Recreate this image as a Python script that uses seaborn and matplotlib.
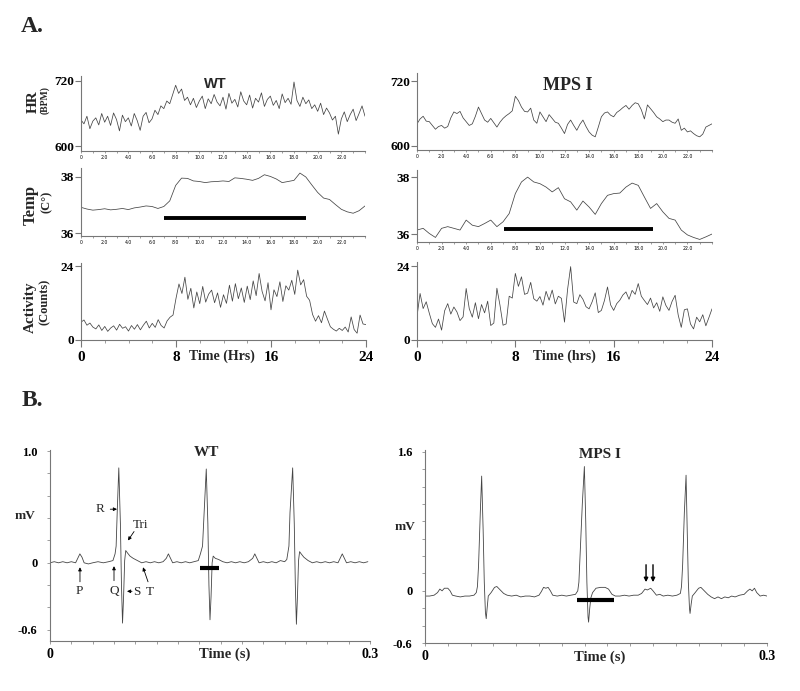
import numpy as np
import matplotlib.pyplot as plt
import pandas as pd
import seaborn as sns

# ---- A. 24 h telemetry traces ----
hours = np.arange(0, 24.01, 0.25)
hours_temp = np.arange(0, 24.01, 0.5)

hr_wt = [648, 641, 655, 632, 646, 652, 639, 660,
         644, 655, 638, 661, 649, 628, 657, 645,
         652, 637, 660, 647, 629, 655, 662, 643,
         650, 666, 658, 674, 669, 683, 678, 695,
         712, 697, 705, 684, 690, 676, 688, 671,
         683, 692, 669, 687, 678, 695, 681, 674,
         690, 668, 697, 679, 686, 672, 700, 683,
         676, 694, 670, 688, 681, 698, 673, 686,
         692, 675, 684, 669, 696, 680, 688, 677,
         718, 684, 673, 690, 678, 685, 669, 676,
         664, 679, 658, 670, 661, 648, 655, 622,
         650, 663, 645, 658, 668, 647, 660, 674,
         655]

hr_mps = [641, 650, 655, 646, 645, 638, 631, 636,
          638, 633, 636, 652, 663, 660, 664, 652,
          645, 638, 641, 655, 672, 660, 648, 644,
          651, 643, 635, 644, 651, 656, 660, 665,
          692, 684, 672, 664, 663, 670, 648, 642,
          663, 654, 645, 658, 651, 644, 642, 633,
          623, 640, 648, 638, 629, 640, 648, 636,
          626, 620, 617, 635, 654, 661, 663, 657,
          654, 662, 666, 671, 675, 668, 675, 680,
          678, 667, 650, 676, 669, 662, 654, 650,
          645, 648, 648, 644, 642, 650, 629, 633,
          626, 628, 623, 619, 617, 622, 635, 638,
          641]

temp_wt = [36.92, 36.86, 36.82, 36.84, 36.87, 36.83, 36.85, 36.88, 36.84, 36.90,
           36.93, 36.97, 36.95, 36.88, 36.95, 37.15, 37.70, 37.96, 37.95, 37.86,
           37.84, 37.80, 37.83, 37.84, 37.86, 37.84, 37.97, 37.95, 37.92, 37.88,
           37.95, 38.08, 38.02, 37.93, 37.80, 37.84, 37.88, 38.14, 38.00, 37.72,
           37.45, 37.25, 37.20, 37.02, 36.85, 36.76, 36.71, 36.80, 36.97]

temp_mps = [36.14, 36.20, 36.02, 35.88, 36.20, 36.26, 36.20, 36.14, 36.49, 36.31,
            36.26, 36.37, 36.49, 36.26, 36.43, 36.72, 37.42, 37.83, 38.00, 37.83,
            37.77, 37.65, 37.48, 37.63, 37.24, 37.13, 36.84, 37.16, 36.95, 36.69,
            37.07, 37.36, 37.42, 37.44, 37.65, 37.79, 37.71, 37.30, 36.90, 37.07,
            36.78, 36.55, 36.49, 36.14, 35.97, 35.88, 35.81, 35.90, 36.00]

act_wt = [5.8, 6.5, 4.8, 5.5, 4.2, 3.6, 4.9, 3.1,
          4.4, 2.8, 3.9, 4.6, 3.2, 5.1, 3.8, 4.3,
          2.9, 4.7, 3.5, 5.0, 3.3, 4.8, 6.1, 3.9,
          5.4, 4.1, 6.6, 4.7, 3.9, 6.2, 7.4, 8.1,
          13.5, 18.2, 15.1, 20.4, 13.2, 16.8, 10.4, 15.6,
          11.8, 17.4, 12.3, 14.9, 16.2, 12.1, 15.3, 10.6,
          14.7, 11.9, 17.8, 12.6, 18.3, 13.4, 16.9, 12.2,
          17.5, 13.1, 19.2, 14.4, 21.6, 15.8, 12.7, 18.6,
          9.8, 16.3, 14.1, 18.9, 12.5, 17.6, 16.2, 19.4,
          14.8, 22.7, 17.9, 19.6, 14.2, 12.9, 8.3, 6.1,
          7.9, 5.6, 9.4, 6.8, 4.3, 3.5, 2.9, 3.8,
          3.1, 4.2, 2.6, 7.5, 3.4, 2.2, 8.1, 5.2,
          5.0]

act_mps = [7.6, 15.1, 10.2, 12.4, 8.7, 5.3, 4.1, 6.8,
           3.2, 9.5, 11.8, 8.4, 10.7, 9.1, 6.3, 7.5,
           16.7, 10.2, 7.4, 12.1, 6.9, 11.5, 8.8, 12.6,
           4.7, 5.5, 16.8, 11.3, 4.8, 5.2, 14.2, 13.6,
           21.6, 17.4, 20.5, 14.8, 15.2, 18.7, 13.4, 12.6,
           14.1, 11.3, 15.8, 12.9, 16.2, 11.7, 14.2, 13.5,
           5.8, 16.4, 23.8, 12.3, 11.8, 14.7, 13.2, 10.8,
           10.1, 12.4, 15.3, 8.9, 9.6, 12.8, 17.2, 11.4,
           9.6, 11.8, 12.9, 14.6, 15.6, 13.2, 16.1, 14.8,
           18.3, 14.2, 12.8, 11.5, 13.6, 10.4, 12.1, 9.3,
           14.0, 11.2, 9.6, 12.5, 14.5, 8.1, 4.1, 9.8,
           10.1, 5.2, 3.6, 7.4, 5.9, 8.2, 4.6, 7.3,
           10.1]

dark_wt = [7, 19]
dark_mps = [7.1, 19.2]

# ---- B. ECG traces ----
ecg_wt_t = [0.000, 0.004, 0.008, 0.012, 0.016, 0.020, 0.024, 0.026, 0.028, 0.030,
            0.032, 0.036, 0.040, 0.045, 0.050, 0.055, 0.059, 0.061, 0.062, 0.063,
            0.0645, 0.066, 0.067, 0.068, 0.069, 0.070, 0.071, 0.0725, 0.075, 0.078,
            0.082, 0.086, 0.090, 0.094, 0.098, 0.102, 0.106, 0.109, 0.111, 0.113,
            0.115, 0.119, 0.123, 0.127, 0.131, 0.135, 0.139, 0.141, 0.143, 0.1445,
            0.1465, 0.148, 0.149, 0.150, 0.151, 0.152, 0.153, 0.155, 0.158, 0.162,
            0.166, 0.170, 0.174, 0.178, 0.182, 0.186, 0.190, 0.192, 0.194, 0.196,
            0.200, 0.204, 0.208, 0.212, 0.216, 0.220, 0.222, 0.224, 0.225, 0.2275,
            0.229, 0.230, 0.231, 0.232, 0.233, 0.234, 0.2355, 0.238, 0.242, 0.246,
            0.250, 0.254, 0.258, 0.262, 0.266, 0.270, 0.272, 0.274, 0.276, 0.278,
            0.282, 0.286, 0.290, 0.294, 0.298]
ecg_wt_mv = [0.00, 0.01, 0.00, 0.01, 0.00, 0.01, 0.00, 0.04, 0.08, 0.05,
             0.00, -0.01, 0.00, 0.01, 0.00, 0.01, 0.02, 0.08, 0.15, 0.45,
             0.85, 0.35, -0.20, -0.54, -0.30, 0.02, 0.11, 0.09, 0.06, 0.04,
             0.02, 0.00, 0.01, 0.00, 0.01, 0.00, 0.01, 0.04, 0.08, 0.04,
             0.00, 0.01, 0.00, 0.01, 0.00, 0.01, 0.02, 0.08, 0.15, 0.45,
             0.84, 0.35, -0.20, -0.51, -0.30, 0.00, 0.06, 0.04, 0.03, 0.01,
             0.00, 0.01, 0.00, 0.01, 0.00, 0.01, 0.04, 0.08, 0.04, 0.00,
             0.01, 0.00, 0.01, 0.00, 0.02, 0.01, 0.03, 0.15, 0.45, 0.85,
             0.35, -0.20, -0.55, -0.30, 0.02, 0.10, 0.08, 0.05, 0.02, 0.00,
             0.01, 0.00, 0.01, 0.00, 0.01, 0.00, 0.04, 0.08, 0.04, 0.00,
             0.01, 0.00, 0.01, 0.00, 0.01]

ecg_mps_t = [0.000, 0.004, 0.008, 0.011, 0.013, 0.015, 0.017, 0.020, 0.022, 0.024,
             0.027, 0.031, 0.035, 0.039, 0.043, 0.045, 0.046, 0.047, 0.0485, 0.0497,
             0.051, 0.052, 0.053, 0.0537, 0.0545, 0.0555, 0.058, 0.061, 0.063, 0.066,
             0.069, 0.072, 0.076, 0.080, 0.084, 0.088, 0.092, 0.096, 0.100, 0.102,
             0.104, 0.106, 0.108, 0.110, 0.112, 0.116, 0.120, 0.124, 0.128, 0.132,
             0.134, 0.135, 0.136, 0.138, 0.1398, 0.141, 0.142, 0.143, 0.1435, 0.1445,
             0.1455, 0.147, 0.150, 0.154, 0.158, 0.161, 0.164, 0.167, 0.171, 0.175,
             0.179, 0.183, 0.187, 0.190, 0.193, 0.195, 0.198, 0.200, 0.203, 0.206,
             0.209, 0.213, 0.217, 0.221, 0.224, 0.225, 0.226, 0.2275, 0.229, 0.230,
             0.231, 0.232, 0.2325, 0.2335, 0.2345, 0.237, 0.240, 0.242, 0.245, 0.248,
             0.251, 0.254, 0.257, 0.260, 0.263, 0.266, 0.269, 0.272, 0.276, 0.280,
             0.283, 0.285, 0.287, 0.289, 0.291, 0.294, 0.297, 0.300]
ecg_mps_mv = [-0.06, -0.06, -0.05, -0.02, 0.02, 0.00, 0.03, 0.03, 0.00, -0.05,
              -0.06, -0.07, -0.06, -0.06, -0.05, -0.02, 0.05, 0.30, 0.90, 1.32,
              0.70, 0.10, -0.25, -0.32, -0.20, -0.06, -0.02, 0.04, 0.05, 0.01,
              -0.03, -0.05, -0.06, -0.05, -0.07, -0.06, -0.06, -0.07, -0.05, -0.01,
              0.04, 0.03, 0.04, 0.00, -0.05, -0.06, -0.05, -0.06, -0.05, -0.04,
              0.00, 0.10, 0.40, 1.00, 1.43, 0.80, 0.10, -0.30, -0.36, -0.20,
              -0.08, -0.02, 0.03, 0.04, 0.04, 0.02, -0.04, -0.06, -0.06, -0.05,
              -0.06, -0.05, -0.05, -0.03, 0.02, 0.01, 0.03, 0.00, -0.05, -0.04,
              -0.06, -0.05, -0.06, -0.05, -0.03, 0.05, 0.30, 0.90, 1.33, 0.70,
              0.10, -0.20, -0.26, -0.15, -0.06, -0.02, 0.03, 0.04, 0.00, -0.04,
              -0.07, -0.09, -0.07, -0.09, -0.07, -0.08, -0.06, -0.07, -0.05, -0.04,
              0.00, 0.02, 0.00, 0.03, -0.02, -0.06, -0.05, -0.06]

qt_wt = [0.1406, 0.158]
qt_mps = [0.133, 0.166]

sns.set_style("ticks")
plt.rcParams['font.family'] = ['Liberation Serif', 'DejaVu Serif']
plt.rcParams['axes.linewidth'] = 0.8

W, H = 800, 691
fig = plt.figure(figsize=(8, 6.91), dpi=100)
LINE = '#444444'
SPINE = '#777777'


def box(x0, y0, x1, y1):
    return fig.add_axes([x0 / W, 1 - y1 / H, (x1 - x0) / W, (y1 - y0) / H])


def ptext(x, y, s, **kw):
    kw.setdefault('ha', 'center')
    kw.setdefault('va', 'center')
    fig.text(x / W, 1 - y / H, s, **kw)


def clean(ax):
    ax.set_facecolor('white')
    for side in ['top', 'right']:
        ax.spines[side].set_visible(False)
    for side in ['left', 'bottom']:
        ax.spines[side].set_color(SPINE)
        ax.spines[side].set_linewidth(0.8)
    ax.set_xlabel('')
    ax.set_ylabel('')
    ax.tick_params(which='both', color=SPINE, labelcolor='black', direction='out')


def trace(ax, t, v, ylim, yticks, tiny=True):
    sns.lineplot(x=t, y=v, ax=ax, color=LINE, lw=0.55)
    clean(ax)
    ax.set_xlim(0, 24)
    ax.set_ylim(*ylim)
    ax.set_yticks(yticks)
    ax.set_yticklabels([str(y) for y in yticks], fontsize=9.5, fontweight='bold')
    ax.tick_params(axis='y', length=4, width=0.8, pad=1)
    if tiny:
        ax.set_xticks(np.arange(0, 23, 2))
        ax.set_xticklabels(['0'] + [f'{h:.1f}' for h in range(2, 23, 2)],
                           fontsize=3.3, family='DejaVu Sans')
        ax.set_xticks(np.arange(0, 24.1, 1), minor=True)
        ax.tick_params(axis='x', which='both', length=1.5, width=0.5, pad=1.5)
    else:
        ax.set_xticks([0, 8, 16, 24])
        ax.set_xticklabels(['0', '8', '16', '24'], fontsize=11, fontweight='bold')
        ax.set_xticks(np.arange(0, 24.1, 2), minor=True)
        ax.tick_params(axis='x', which='major', length=5, width=0.8, pad=3)
        ax.tick_params(axis='x', which='minor', length=2, width=0.5)


# A. WT
ax = box(81, 76, 365, 151)
trace(ax, hours, hr_wt, (591, 729), [600, 720])
ax = box(81, 168, 365, 236)
trace(ax, hours_temp, temp_wt, (35.9, 38.32), [36, 38])
ax.plot(dark_wt, [36.54, 36.54], color='black', lw=2.8, solid_capstyle='butt')
ax = box(81, 263, 366, 340)
trace(ax, hours, act_wt, (0, 25), [0, 24], tiny=False)

# A. MPS I
ax = box(417, 73, 712, 150)
trace(ax, hours, hr_mps, (592.6, 735), [600, 720])
ax = box(417, 170, 712, 242)
trace(ax, hours_temp, temp_mps, (35.72, 38.25), [36, 38])
ax.plot(dark_mps, [36.17, 36.17], color='black', lw=2.8, solid_capstyle='butt')
ax = box(417, 262, 712, 340)
trace(ax, hours, act_mps, (0, 25.3), [0, 24], tiny=False)

ptext(32, 27, 'A.', fontsize=17, fontweight='bold')
ptext(215, 84, 'WT', family='Liberation Sans', fontsize=10.5, fontweight='bold')
ptext(568, 85, 'MPS I', fontsize=13, fontweight='bold')
ptext(33, 102, 'HR', rotation=90, fontsize=11, fontweight='bold')
ptext(45, 100, '(BPM)', rotation=90, fontsize=7, fontweight='bold')
ptext(31, 205, 'Temp', rotation=90, fontsize=12, fontweight='bold')
ptext(47, 202, '(C°)', rotation=90, fontsize=9, fontweight='bold')
ptext(30, 307, 'Activity', rotation=90, fontsize=11, fontweight='bold')
ptext(45, 302, '(Counts)', rotation=90, fontsize=9, fontweight='bold')
ptext(222, 356, 'Time (Hrs)', fontsize=10, fontweight='bold')
ptext(564, 356, 'Time (hrs)', fontsize=10, fontweight='bold')


# B. ECG
def ecg(ax, t, v, ylim, yticks, ylabels):
    sns.lineplot(x=t, y=v, ax=ax, color=LINE, lw=0.6)
    clean(ax)
    ax.set_xlim(0, 0.3)
    ax.set_ylim(*ylim)
    ax.set_yticks(yticks)
    ax.set_yticklabels(ylabels, fontsize=9, fontweight='bold')
    ax.set_yticks(np.arange(-0.6, ylim[1], 0.2), minor=True)
    ax.set_xticks([0, 0.3])
    ax.set_xticklabels(['0', '0.3'], fontsize=10, fontweight='bold')
    ax.set_xticks(np.arange(0, 0.301, 0.02), minor=True)
    ax.tick_params(which='both', length=2, width=0.5)
    ax.tick_params(axis='y', pad=7)
    ax.tick_params(axis='x', pad=3)


ax1 = box(50, 450, 370, 641)
ecg(ax1, ecg_wt_t, ecg_wt_mv, (-0.7, 1.01), [-0.6, 0, 1.0], ['-0.6', '0', '1.0'])
ax1.plot(qt_wt, [-0.045, -0.045], color='black', lw=3, solid_capstyle='butt')

arrow = dict(arrowstyle='-|>', color='black', lw=0.6, mutation_scale=5, shrinkA=0, shrinkB=0)
marks = [('R', (0.0469, 0.48), (0.0565, 0.48), (0.0628, 0.48)),
         ('Tri', (0.0853, 0.34), (0.0788, 0.28), (0.0731, 0.20)),
         ('P', (0.0272, -0.25), (0.0281, -0.17), (0.0281, -0.04)),
         ('Q', (0.0600, -0.25), (0.0600, -0.16), (0.0600, -0.03)),
         ('S', (0.0815, -0.26), (0.0769, -0.255), (0.0722, -0.255)),
         ('T', (0.0938, -0.26), (0.0919, -0.17), (0.0872, -0.04))]
for label, pos, tail, tip in marks:
    ax1.text(*pos, label, fontsize=9.5, ha='center', va='center')
    ax1.annotate('', xy=tip, xytext=tail, arrowprops=arrow)

ax2 = box(425, 450, 767, 643)
ecg(ax2, ecg_mps_t, ecg_mps_mv, (-0.6, 1.62), [-0.6, 0, 1.6], ['-0.6', '0', '1.6'])
ax2.plot(qt_mps, [-0.11, -0.11], color='black', lw=3, solid_capstyle='butt')
arrow2 = dict(arrowstyle='-|>', color='black', lw=1.0, mutation_scale=6, shrinkA=0, shrinkB=0)
for tx in [0.1939, 0.2]:
    ax2.annotate('', xy=(tx, 0.10), xytext=(tx, 0.30), arrowprops=arrow2)

ptext(32, 400, 'B.', fontsize=17, fontweight='bold')
ptext(206, 452, 'WT', fontsize=11, fontweight='bold')
ptext(600, 455, 'MPS I', fontsize=11, fontweight='bold')
ptext(25, 516, 'mV', fontsize=9.5, fontweight='bold')
ptext(405, 527, 'mV', fontsize=9.5, fontweight='bold')
ptext(225, 654, 'Time (s)', fontsize=10.5, fontweight='bold')
ptext(600, 657, 'Time (s)', fontsize=10.5, fontweight='bold')

fig.savefig('out.png', dpi=100, facecolor='white')
